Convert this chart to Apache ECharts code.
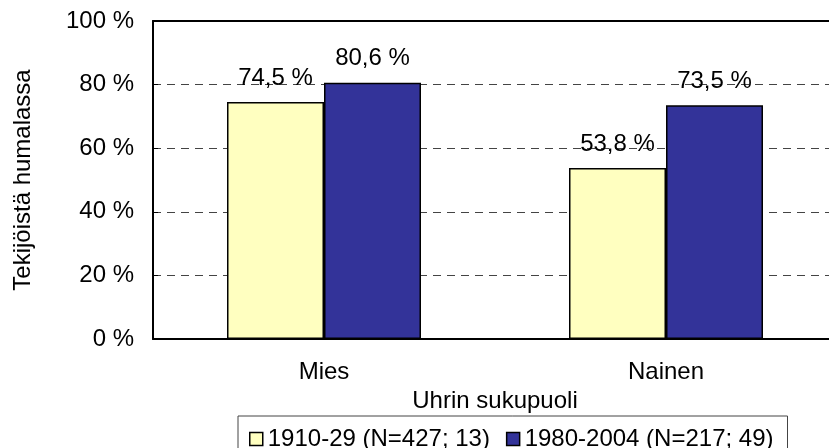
<!DOCTYPE html>
<html>
<head>
<meta charset="utf-8">
<script src="https://cdn.jsdelivr.net/npm/echarts@6/dist/echarts.min.js"></script>
<style>
html,body{margin:0;padding:0;background:#fff;overflow:hidden;width:829px;height:448px;}
#c{width:840px;height:448px;}
</style>
</head>
<body>
<div id="c"></div>
<script>
const categories = ['Mies', 'Nainen'];
const seriesNames = ['1910-29 (N=427; 13)', '1980-2004 (N=217; 49)'];
const values1910 = [74.5, 53.8];
const values1980 = [80.6, 73.5];
const yTicks = [0, 20, 40, 60, 80, 100];

const FONT = '"Liberation Sans", Arial, sans-serif';
const FS = 24;
const fmt = v => v.toFixed(1).replace('.', ',') + ' %';

const chart = echarts.init(document.getElementById('c'), null, {renderer: 'canvas'});
chart.setOption({
  animation: false,
  backgroundColor: '#ffffff',
  textStyle: {fontFamily: FONT, color: '#000'},
  grid: {left: 153, top: 21, width: 684, bottom: 109, containLabel: false},
  legend: {
    data: seriesNames,
    left: 238,
    top: 416,
    padding: [11, 14, 14, 11],
    itemWidth: 13,
    itemHeight: 13,
    itemGap: 16,
    borderColor: '#444',
    borderWidth: 1,
    icon: 'rect',
    textStyle: {fontFamily: FONT, fontSize: FS, color: '#000', padding: [0, 0, 0, 0]},
    itemStyle: {borderColor: '#000', borderWidth: 1.5}
  },
  xAxis: [{
    type: 'category',
    data: categories,
    name: 'Uhrin sukupuoli',
    nameLocation: 'middle',
    nameGap: 40,
    nameTextStyle: {fontFamily: FONT, fontSize: FS, color: '#000'},
    axisLine: {lineStyle: {color: '#000', width: 2}},
    axisTick: {show: false},
    axisLabel: {fontFamily: FONT, fontSize: FS, color: '#000', margin: 21}
  }, {
    type: 'category',
    data: categories,
    position: 'top',
    axisLine: {show: true, onZero: false, lineStyle: {color: '#000', width: 2}},
    axisTick: {show: false},
    axisLabel: {show: false}
  }],
  yAxis: {
    type: 'value',
    min: 0,
    max: 100,
    interval: 20,
    name: 'Tekijöistä humalassa',
    nameLocation: 'middle',
    nameGap: 118,
    nameTextStyle: {fontFamily: FONT, fontSize: FS, color: '#000'},
    axisLine: {show: true, lineStyle: {color: '#000', width: 2}},
    axisTick: {show: true, inside: true, length: 5, lineStyle: {color: '#000', width: 1}},
    axisLabel: {
      fontFamily: FONT, fontSize: FS, color: '#000', margin: 19,
      formatter: v => yTicks.includes(v) ? v + ' %' : ''
    },
    splitLine: {show: true, lineStyle: {color: '#444', width: 1, type: [8, 6]}}
  },
  series: [{
    name: seriesNames[0],
    type: 'bar',
    data: values1910,
    barWidth: 97,
    barGap: '0%',
    itemStyle: {color: '#FFFFC0', borderColor: '#000', borderWidth: 1.5},
    label: {show: true, position: 'top', distance: 12, fontFamily: FONT, fontSize: FS, color: '#000', formatter: p => fmt(p.value)}
  }, {
    name: seriesNames[1],
    type: 'bar',
    data: values1980,
    barWidth: 97,
    barGap: '0%',
    itemStyle: {color: '#333399', borderColor: '#000', borderWidth: 1.5},
    label: {show: true, position: 'top', distance: 12, fontFamily: FONT, fontSize: FS, color: '#000', formatter: p => fmt(p.value)}
  }]
});
</script>
</body>
</html>
